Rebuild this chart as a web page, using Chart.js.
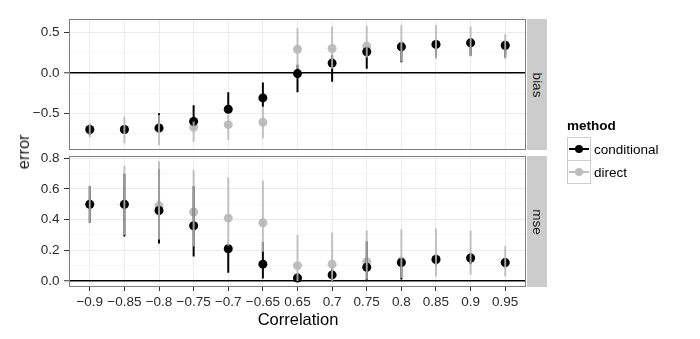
<!DOCTYPE html>
<html>
<head>
<meta charset="utf-8">
<title>error by correlation</title>
<script src="https://cdn.jsdelivr.net/npm/chart.js@4.4.1/dist/chart.umd.min.js"></script>
<style>
  html, body { margin: 0; padding: 0; background: #fff; }
  body {
    width: 700px; height: 339px; position: relative; overflow: hidden;
    font-family: 'Liberation Sans', Arial, sans-serif; color: #000;
  }
  canvas { position: absolute; left: 0; }
  #cBias { top: 0; }
  #cMse  { top: 150px; }

  .strip { position: absolute; left: 527px; width: 20px; background: #CCCCCC; }
  .strip span {
    position: absolute; white-space: nowrap; line-height: 1;
    left: 50%; top: 50%; font-size: 13.5px; color: #1a1a1a;
    transform: translate(-50%, -50%) rotate(90deg);
  }
  .title { position: absolute; font-size: 16.5px; white-space: nowrap; line-height: 1; font-weight: normal; }
  .ytitle { position: absolute; left: 15px; top: 152px; font-size: 16.5px; line-height: 16px;
            writing-mode: vertical-rl; transform: translateY(-50%) rotate(180deg); color: #111; }

  .ltitle { position: absolute; left: 567px; top: 118px; font-size: 13.5px; font-weight: bold; line-height: 15px; }
  .key { position: absolute; left: 567px; width: 22px; height: 22px; border: 1px solid #CCCCCC; background: #fff; }
  .key .ln  { position: absolute; left: 1px; right: 1px; top: 10px; height: 2px; }
  .key .dot { position: absolute; left: 7px; top: 7px; width: 8px; height: 8px; border-radius: 50%; }
  .lbl { position: absolute; left: 594px; font-size: 13.5px; line-height: 15px; }
</style>
</head>
<body>

<canvas id="cBias" width="540" height="155"></canvas>
<canvas id="cMse" width="540" height="189"></canvas>

<div class="strip" style="top:19px;height:131px"><span>bias</span></div>
<div class="strip" style="top:156px;height:131px"><span>mse</span></div>

<div class="title" style="left:298px;top:319px;transform:translate(-50%,-50%)">Correlation</div>
<div class="ytitle">error</div>

<div class="ltitle">method</div>
<div class="key" style="top:137px"><i class="ln" style="background:#000"></i><i class="dot" style="background:#000"></i></div>
<div class="key" style="top:160px"><i class="ln" style="background:#BEBEBE"></i><i class="dot" style="background:#BEBEBE"></i></div>
<div class="lbl" style="top:142px">conditional</div>
<div class="lbl" style="top:165px">direct</div>

<script>
/* ── data ─────────────────────────────────────────────── */
const categories = ['\u22120.9', '\u22120.85', '\u22120.8', '\u22120.75', '\u22120.7', '\u22120.65',
                    '0.65', '0.7', '0.75', '0.8', '0.85', '0.9', '0.95'];

// bias panel
const biasConditional     = [-0.70, -0.70, -0.68, -0.60, -0.45, -0.31, -0.01, 0.12, 0.26, 0.32, 0.35, 0.37, 0.34];
const biasConditionalLow  = [-0.77, -0.74, -0.72, -0.66, -0.50, -0.42, -0.24, -0.11, 0.05, 0.13, 0.19, 0.21, 0.19];
const biasConditionalHigh = [-0.64, -0.66, -0.50, -0.40, -0.24, -0.12, 0.10, 0.22, 0.32, 0.30, 0.37, 0.39, 0.36];
const biasDirect          = [-0.70, -0.70, -0.69, -0.67, -0.64, -0.61, 0.29, 0.30, 0.33, 0.33, 0.35, 0.37, 0.33];
const biasDirectLow       = [-0.80, -0.87, -0.89, -0.85, -0.83, -0.81, 0.05, 0.05, 0.19, 0.14, 0.17, 0.20, 0.17];
const biasDirectHigh      = [-0.62, -0.54, -0.52, -0.60, -0.52, -0.42, 0.55, 0.57, 0.58, 0.59, 0.59, 0.57, 0.48];

// mse panel
const mseConditional      = [0.50, 0.50, 0.46, 0.36, 0.21, 0.11, 0.02, 0.04, 0.09, 0.12, 0.14, 0.15, 0.12];
const mseConditionalLow   = [0.38, 0.29, 0.245, 0.16, 0.054, 0.017, 0.00, 0.00, 0.00, 0.01, 0.10, 0.11, 0.09];
const mseConditionalHigh  = [0.62, 0.70, 0.73, 0.62, 0.24, 0.255, 0.05, 0.08, 0.26, 0.15, 0.17, 0.18, 0.15];
const mseDirect           = [0.50, 0.50, 0.49, 0.45, 0.41, 0.38, 0.10, 0.11, 0.125, 0.13, 0.145, 0.15, 0.12];
const mseDirectLow        = [0.38, 0.30, 0.27, 0.225, 0.23, 0.19, 0.00, 0.00, 0.01, 0.02, 0.03, 0.04, 0.03];
const mseDirectHigh       = [0.62, 0.75, 0.78, 0.725, 0.675, 0.656, 0.30, 0.316, 0.33, 0.338, 0.342, 0.33, 0.227];

// axis ticks
const biasMajorTicks = [-0.5, 0, 0.5];
const biasMinorTicks = [-0.75, -0.25, 0.25];
const mseMajorTicks  = [0, 0.2, 0.4, 0.6, 0.8];
const mseMinorTicks  = [0.1, 0.3, 0.5, 0.7];

/* ── style ────────────────────────────────────────────── */
const TEXT       = '#2b2b2b';
const TICK       = '#333333';
const GRID_MAJOR = '#EBEBEB';
const GRID_MINOR = '#F6F6F6';
const BORDER     = '#7F7F7F';
const COND_CLR   = '#000000';
const DIR_CLR    = '#BEBEBE';
const DIR_LINE   = 'rgba(185,185,185,0.85)';

Chart.defaults.font.family = "'Liberation Sans', Arial, sans-serif";
Chart.defaults.font.size   = 13.5;
Chart.defaults.color       = TEXT;

const isMajor = (v, majors) => majors.some(m => Math.abs(m - v) < 1e-9);
const fmt = v => (v < 0 ? '\u2212' : '') + Math.abs(v).toFixed(1);

// vertical ranges as one broken line per series
function rangeData(low, high) {
    const pts = [];
    low.forEach((lo, i) => { pts.push({ x: i, y: lo }, { x: i, y: high[i] }, { x: i, y: null }); });
    return pts;
}
const pointData = vals => vals.map((y, i) => ({ x: i, y }));

function panelDatasets(cond, condLow, condHigh, dir, dirLow, dirHigh) {
    return [
        { label: 'direct range', data: rangeData(dirLow, dirHigh), showLine: true, spanGaps: false,
          borderColor: DIR_LINE, borderWidth: 2, pointRadius: 0, order: 1 },
        { label: 'conditional range', data: rangeData(condLow, condHigh), showLine: true, spanGaps: false,
          borderColor: COND_CLR, borderWidth: 2, pointRadius: 0, order: 2 },
        { label: 'conditional', data: pointData(cond), showLine: false, pointRadius: 4.5,
          backgroundColor: COND_CLR, borderColor: COND_CLR, pointBorderWidth: 0, order: 3 },
        { label: 'direct', data: pointData(dir), showLine: false, pointRadius: 4.5,
          backgroundColor: DIR_CLR, borderColor: DIR_CLR, pointBorderWidth: 0, order: 4 },
    ];
}

function xScale(showLabels) {
    return {
        type: 'linear', bounds: 'data',
        min: -0.6, max: categories.length - 1 + 0.6,
        afterBuildTicks: s => { s.ticks = categories.map((_, i) => ({ value: i })); },
        afterFit: s => {
            s.height = showLabels ? 30 : 0;
            s.paddingLeft = 0; s.paddingRight = 0;
        },
        ticks: { display: showLabels, autoSkip: false, maxRotation: 0, minRotation: 0,
                 padding: 3, color: TEXT, callback: v => categories[v] },
        grid: { color: GRID_MAJOR, z: -2, drawTicks: showLabels, tickLength: 4, tickColor: TICK },
        border: { display: false },
    };
}

function yScale(min, max, majors, minors) {
    const all = [...minors, ...majors].sort((a, b) => a - b);
    const val = c => (c.tick ? c.tick.value : NaN);
    return {
        type: 'linear', bounds: 'data', min, max,
        afterBuildTicks: s => { s.ticks = all.map(v => ({ value: v })); },
        afterFit: s => {
            s.width = 69;
            s.paddingTop = 0; s.paddingBottom = 0;
        },
        ticks: { autoSkip: false, padding: 4.5, color: TEXT,
                 callback: v => (isMajor(v, majors) ? fmt(v) : '') },
        grid: {
            z: -1,
            color: c => (val(c) === 0 ? '#000' : isMajor(val(c), majors) ? GRID_MAJOR : GRID_MINOR),
            lineWidth: c => (val(c) === 0 ? 1.5 : 1),
            tickColor: c => (isMajor(val(c), majors) ? TICK : 'rgba(0,0,0,0)'),
            tickLength: 5, tickWidth: 1,
        },
        border: { display: false },
    };
}

// panel frame
const panelBox = {
    id: 'panelBox',
    afterDraw(chart) {
        const { ctx, chartArea: a } = chart;
        ctx.save();
        ctx.strokeStyle = BORDER;
        ctx.lineWidth = 1;
        ctx.strokeRect(a.left + 0.5, a.top + 0.5, a.width - 1, a.height - 1);
        ctx.restore();
    },
};

function makePanel(id, datasets, y, showX, padding) {
    new Chart(document.getElementById(id), {
        type: 'scatter',
        data: { datasets },
        options: {
            responsive: false, animation: false, events: [],
            layout: { padding, autoPadding: false },
            plugins: { legend: { display: false }, tooltip: { enabled: false } },
            scales: { x: xScale(showX), y },
        },
        plugins: [panelBox],
    });
}

makePanel('cBias',
    panelDatasets(biasConditional, biasConditionalLow, biasConditionalHigh, biasDirect, biasDirectLow, biasDirectHigh),
    yScale(-0.953, 0.664, biasMajorTicks, biasMinorTicks),
    false, { top: 19, right: 14, bottom: 5, left: 0 });

makePanel('cMse',
    panelDatasets(mseConditional, mseConditionalLow, mseConditionalHigh, mseDirect, mseDirectLow, mseDirectHigh),
    yScale(-0.039, 0.815, mseMajorTicks, mseMinorTicks),
    true, { top: 6, right: 14, bottom: 22, left: 0 });
</script>
</body>
</html>
